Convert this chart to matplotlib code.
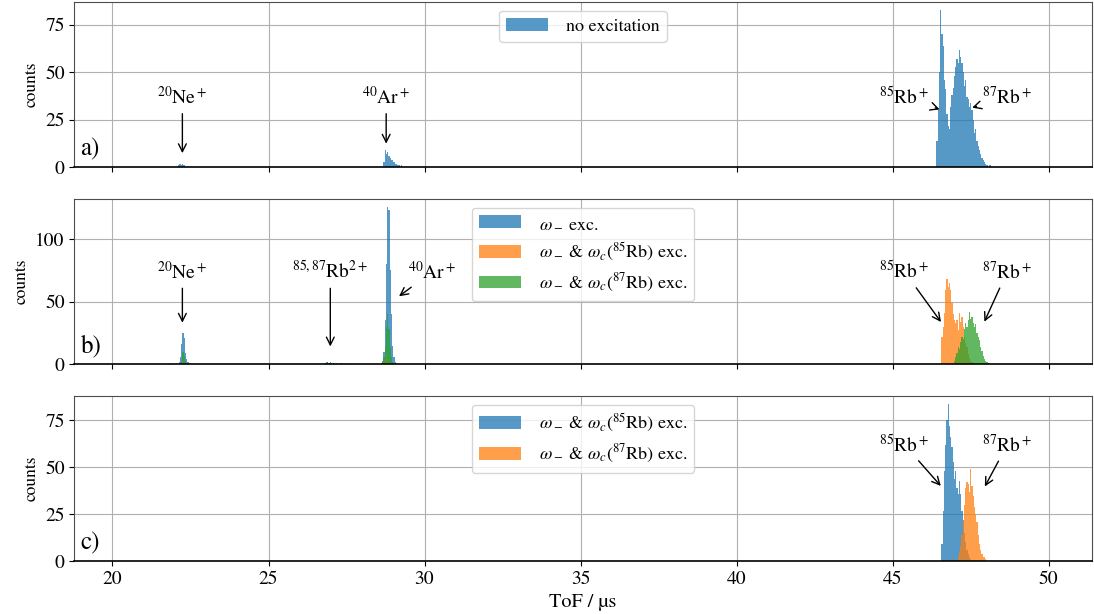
import matplotlib.pyplot as plt

plt.rcParams['font.family'] = 'STIXGeneral'
plt.rcParams['mathtext.fontset'] = 'stix'

# ---- histogram data (counts per 0.04 us bin, given as (first bin edge, counts)) ----
bin_width = 0.04

# a) no excitation
a_blue = [
    (22.10, [1, 2, 1, 2, 1, 1]),
    (28.68, [3, 9, 7, 8, 6, 5, 4, 4, 3, 2, 2, 1, 1, 0, 1]),
    (46.40, [14, 30, 50, 83, 70, 64, 46, 41, 28, 22, 20, 32, 38, 42, 48, 53, 57, 55, 62, 58,
             55, 50, 43, 46, 37, 36, 32, 34, 30, 25, 18, 20, 14, 11, 9, 7, 5, 4, 3, 2,
             1, 0, 1, 1]),
]

# b) omega_- exc. / + omega_c(85Rb) / + omega_c(87Rb)
b_blue = [
    (21.80, [1]),
    (22.12, [2, 6, 16, 25, 21, 9, 4, 2, 1]),
    (26.80, [1, 2, 2, 1, 2, 1, 0, 1, 0, 1, 0, 0, 1, 0, 1, 0, 0, 1]),
    (28.60, [1, 3, 10, 35, 80, 126, 123, 75, 40, 15, 6, 2, 1]),
]
b_orange = [
    (22.16, [1, 2, 3, 2, 1]),
    (26.84, [1, 1, 0, 1]),
    (28.68, [2, 4, 8, 6, 3, 1]),
    (46.56, [22, 30, 41, 59, 68, 62, 65, 59, 49, 40, 35, 33, 35, 27, 41, 34, 38, 30, 22, 17,
             14, 8, 5, 3, 2, 1]),
]
b_green = [
    (22.16, [1, 3, 10, 7, 3, 1]),
    (26.84, [1, 2, 1, 0, 1]),
    (28.64, [2, 6, 15, 30, 40, 28, 14, 6, 2, 1]),
    (46.96, [3, 6, 9, 14, 12, 18, 22, 20, 28, 33, 30, 35, 42, 36, 38, 33, 30, 32, 25, 22,
             19, 14, 11, 7, 4, 3, 2, 1]),
]

# c) omega_- & omega_c(85Rb) / omega_- & omega_c(87Rb)
c_blue = [
    (46.56, [9, 27, 48, 62, 75, 84, 72, 66, 61, 53, 44, 48, 39, 36, 43, 36, 27, 22, 15, 10,
             6, 4, 2, 1]),
]
c_orange = [
    (47.08, [2, 5, 8, 14, 22, 30, 39, 42, 41, 37, 49, 40, 35, 29, 25, 21, 14, 9, 6, 4,
             2, 2, 1]),
]

lbl_none = "no excitation"
lbl_wm = r"$\omega_-$ exc."
lbl_85 = r"$\omega_-$ & $\omega_c(^{85}$Rb) exc."
lbl_87 = r"$\omega_-$ & $\omega_c(^{87}$Rb) exc."


def flatten(parts):
    xs, ys = [], []
    for start, counts in parts:
        xs += [start + bin_width * i for i in range(len(counts))]
        ys += counts
    return xs, ys


def draw(ax, parts, color, label):
    xs, ys = flatten(parts)
    ax.bar(xs, ys, width=bin_width, align='edge', color=color, alpha=0.75,
           linewidth=0, label=label)


def note(ax, text, xy, xytext):
    ax.annotate(text, xy=xy, xytext=xytext, ha='center', va='center', fontsize=14,
                arrowprops=dict(arrowstyle='->', color='k', lw=1))


fig, axes = plt.subplots(3, 1, figsize=(10.94, 6.14), dpi=100, sharex=True)
fig.subplots_adjust(left=0.068, right=0.998, top=0.997, bottom=0.086, hspace=0.19)
ax_a, ax_b, ax_c = axes

draw(ax_a, a_blue, 'tab:blue', lbl_none)
draw(ax_b, b_blue, 'tab:blue', lbl_wm)
draw(ax_b, b_orange, 'tab:orange', lbl_85)
draw(ax_b, b_green, 'tab:green', lbl_87)
draw(ax_c, c_blue, 'tab:blue', lbl_85)
draw(ax_c, c_orange, 'tab:orange', lbl_87)

# annotations
note(ax_a, r"$^{20}$Ne$^+$", (22.24, 6), (22.24, 37))
note(ax_a, r"$^{40}$Ar$^+$", (28.77, 11), (28.77, 37))
note(ax_a, r"$^{85}$Rb$^+$", (46.59, 30), (45.38, 37))
note(ax_a, r"$^{87}$Rb$^+$", (47.46, 31), (48.67, 37))

note(ax_b, r"$^{20}$Ne$^+$", (22.24, 31), (22.24, 74))
note(ax_b, r"$^{85,87}$Rb$^{2+}$", (26.98, 12), (26.98, 74))
note(ax_b, r"$^{40}$Ar$^+$", (29.11, 53), (30.24, 74))
note(ax_b, r"$^{85}$Rb$^+$", (46.6, 32), (45.38, 74))
note(ax_b, r"$^{87}$Rb$^+$", (47.9, 32), (48.67, 74))

note(ax_c, r"$^{85}$Rb$^+$", (46.6, 39), (45.38, 62))
note(ax_c, r"$^{87}$Rb$^+$", (47.91, 38.5), (48.67, 62))

for ax, tag, yt in zip(axes, ['a)', 'b)', 'c)'], [[0, 25, 50, 75], [0, 50, 100], [0, 25, 50, 75]]):
    ax.set_xlim(18.78, 51.38)
    ax.set_yticks(yt)
    ax.set_ylabel('counts', fontsize=12.5)
    ax.grid(True, color='#b0b0b0', lw=0.8)
    ax.set_axisbelow(True)
    ax.tick_params(labelsize=14)
    for s in ['top', 'left', 'right']:
        ax.spines[s].set_color('0.3')
    ax.spines['bottom'].set_color('black')
    ax.spines['bottom'].set_linewidth(1.2)
    ax.text(0.006, 0.07, tag, transform=ax.transAxes, fontsize=18, va='baseline')
    ax.legend(loc='upper center', fontsize=13, handlelength=2.3, handletextpad=1.0,
              framealpha=0.8)

ax_c.set_xticks([20, 25, 30, 35, 40, 45, 50])
ax_c.set_xlabel('ToF / µs', fontsize=14.5)

plt.savefig('out.png', dpi=100)
